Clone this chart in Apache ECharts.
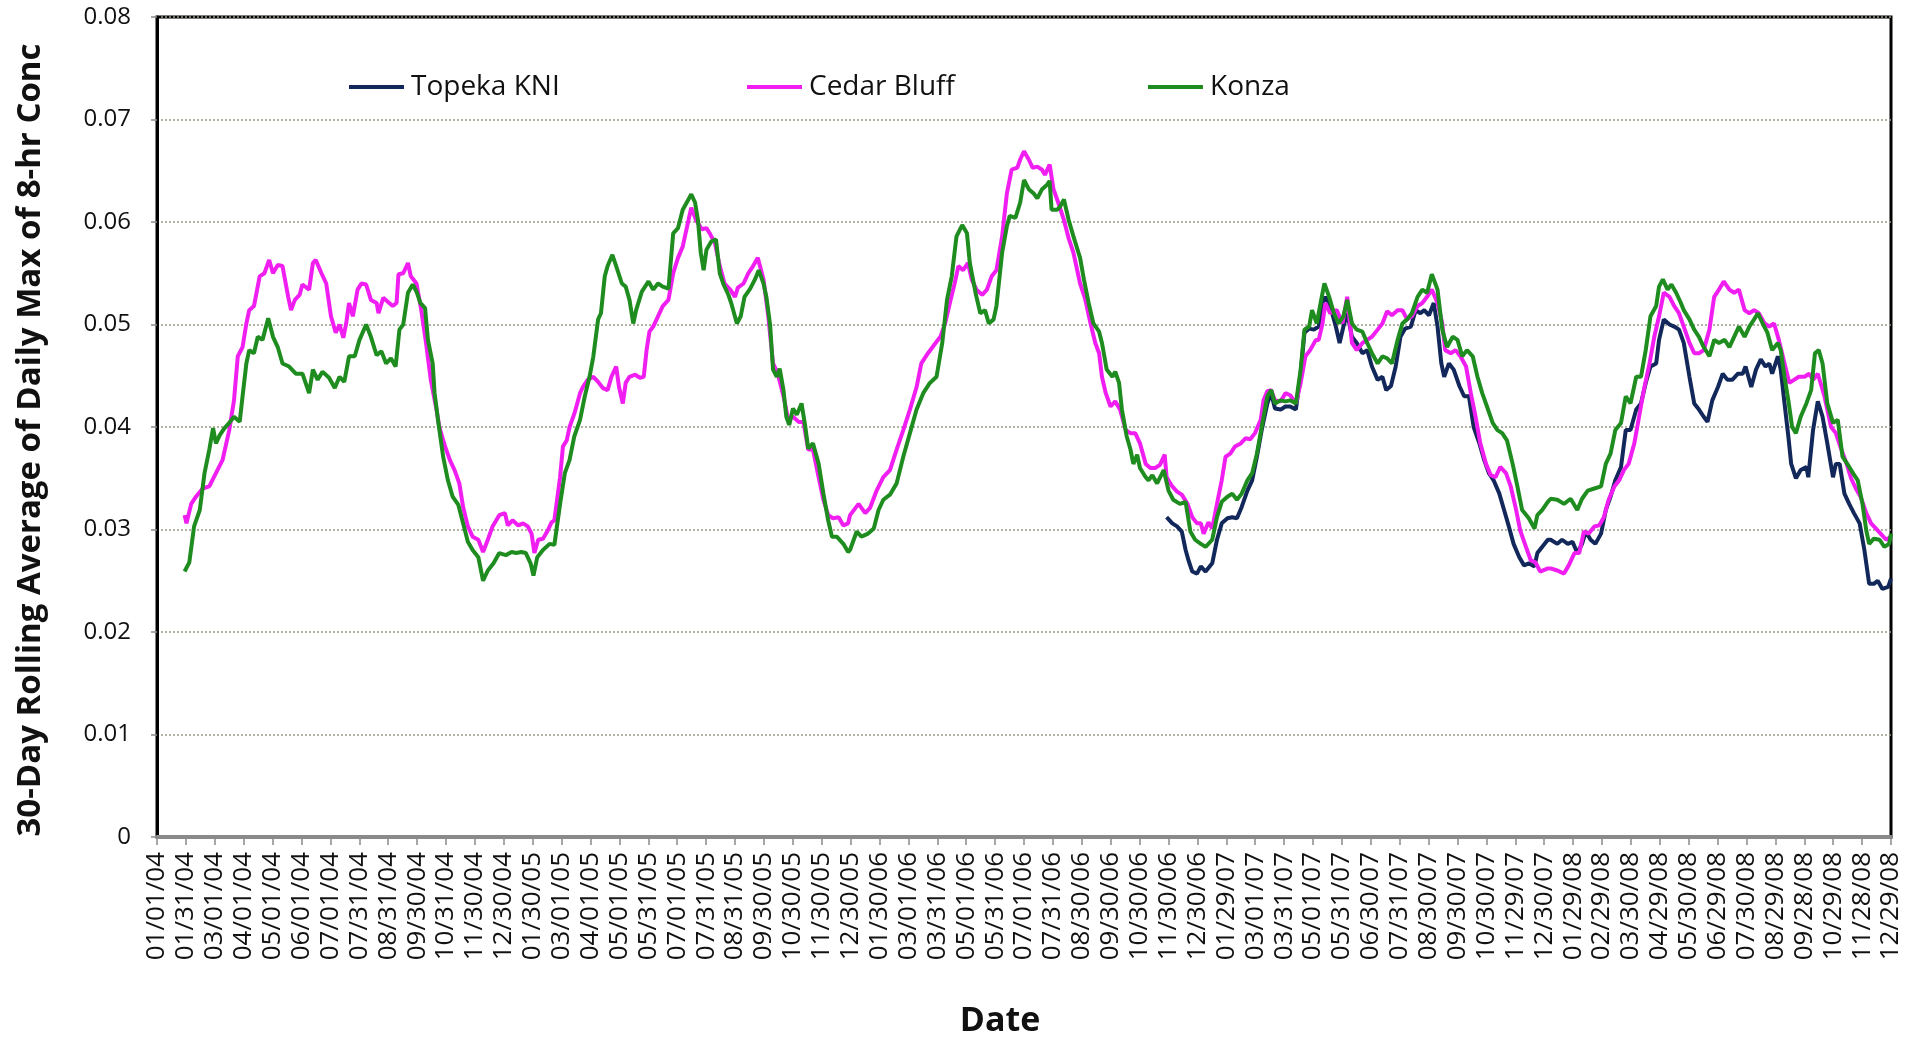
<!DOCTYPE html>
<html>
<head>
<meta charset="utf-8">
<title>30-Day Rolling Average of Daily Max of 8-hr Conc</title>
<script src="https://cdn.jsdelivr.net/npm/echarts@6/dist/echarts.min.js"></script>
<style>
  html, body { margin: 0; padding: 0; background: #fff; }
  #chart { width: 1907px; height: 1039px; }
</style>
</head>
<body>
<div id="chart"></div>
<script>
// Tick labels along the date axis (one every 30.4 days starting 01/01/04)
const dateTicks = [
  '01/01/04','01/31/04','03/01/04','04/01/04','05/01/04','06/01/04','07/01/04','07/31/04','08/31/04','09/30/04',
  '10/31/04','11/30/04','12/30/04','01/30/05','03/01/05','04/01/05','05/01/05','05/31/05','07/01/05','07/31/05',
  '08/31/05','09/30/05','10/30/05','11/30/05','12/30/05','01/30/06','03/01/06','03/31/06','05/01/06','05/31/06',
  '07/01/06','07/31/06','08/30/06','09/30/06','10/30/06','11/30/06','12/30/06','01/29/07','03/01/07','03/31/07',
  '05/01/07','05/31/07','06/30/07','07/31/07','08/30/07','09/30/07','10/30/07','11/29/07','12/30/07','01/29/08',
  '02/29/08','03/30/08','04/29/08','05/30/08','06/29/08','07/30/08','08/29/08','09/28/08','10/29/08','11/28/08',
  '12/29/08'
];
const tickStepDays = 30.4;
const lastDay = 1824; // 12/29/08, counted in days after 01/01/04

// Each point: [days after 01/01/04, 30-day rolling average (ppm)]
const topekaKNI = [
  [1062,0.0312],[1068,0.0306],[1073,0.0303],[1078,0.0298],[1082,0.0280],[1085,0.0270],[1089,0.0259],[1094,0.0257],
  [1098,0.0264],[1103,0.0259],[1110,0.0267],[1115,0.0290],[1120,0.0306],[1126,0.0311],[1131,0.0312],[1136,0.0311],
  [1141,0.0322],[1147,0.0338],[1152,0.0348],[1157,0.0371],[1162,0.0397],[1168,0.0423],[1172,0.0433],[1176,0.0418],
  [1182,0.0417],[1187,0.0420],[1192,0.0420],[1198,0.0417],[1203,0.0452],[1207,0.0492],[1212,0.0496],[1217,0.0495],
  [1222,0.0498],[1226,0.0521],[1229,0.0527],[1234,0.0518],[1240,0.0498],[1244,0.0482],[1248,0.0498],[1252,0.0511],
  [1257,0.0488],[1262,0.0482],[1268,0.0472],[1273,0.0475],[1278,0.0459],[1284,0.0446],[1289,0.0449],[1293,0.0436],
  [1298,0.0440],[1303,0.0459],[1308,0.0488],[1313,0.0496],[1319,0.0498],[1324,0.0514],[1329,0.0511],[1333,0.0514],
  [1338,0.0509],[1343,0.0521],[1347,0.0498],[1351,0.0462],[1354,0.0449],[1359,0.0462],[1364,0.0456],[1370,0.0440],
  [1375,0.0430],[1380,0.0430],[1385,0.0400],[1391,0.0384],[1396,0.0368],[1401,0.0355],[1406,0.0348],[1412,0.0335],
  [1417,0.0319],[1422,0.0303],[1427,0.0286],[1433,0.0273],[1438,0.0265],[1443,0.0267],[1449,0.0264],[1452,0.0277],
  [1457,0.0283],[1463,0.0290],[1466,0.0290],[1473,0.0286],[1478,0.0290],[1484,0.0286],[1489,0.0288],[1494,0.0277],
  [1499,0.0286],[1503,0.0298],[1508,0.0290],[1513,0.0286],[1519,0.0296],[1524,0.0319],[1529,0.0332],[1534,0.0348],
  [1540,0.0361],[1545,0.0397],[1550,0.0397],[1556,0.0417],[1561,0.0423],[1566,0.0443],[1571,0.0459],[1577,0.0462],
  [1580,0.0485],[1585,0.0505],[1591,0.0500],[1596,0.0498],[1601,0.0495],[1606,0.0482],[1612,0.0449],[1617,0.0423],
  [1622,0.0417],[1627,0.0410],[1631,0.0405],[1636,0.0426],[1642,0.0439],[1647,0.0452],[1652,0.0446],[1657,0.0446],
  [1663,0.0452],[1668,0.0452],[1671,0.0459],[1677,0.0439],[1682,0.0456],[1687,0.0466],[1692,0.0459],[1696,0.0462],
  [1699,0.0452],[1705,0.0469],[1708,0.0456],[1712,0.0423],[1716,0.0391],[1719,0.0364],[1724,0.0350],[1729,0.0358],
  [1735,0.0361],[1737,0.0351],[1742,0.0397],[1747,0.0425],[1752,0.0410],[1757,0.0384],[1763,0.0351],[1766,0.0364],
  [1770,0.0364],[1775,0.0335],[1780,0.0325],[1785,0.0316],[1791,0.0306],[1796,0.0280],[1801,0.0247],[1806,0.0247],
  [1810,0.0250],[1815,0.0242],[1821,0.0244],[1824,0.0252]
];

const cedarBluff = [
  [29,0.0314],[31,0.0306],[36,0.0325],[41,0.0332],[48,0.0340],[55,0.0342],[62,0.0355],[69,0.0368],[76,0.0397],
  [81,0.0426],[85,0.0469],[90,0.0478],[94,0.0501],[97,0.0514],[102,0.0518],[108,0.0547],[113,0.0550],[118,0.0563],
  [122,0.0550],[127,0.0558],[132,0.0557],[138,0.0527],[141,0.0514],[145,0.0524],[150,0.0529],[153,0.0539],[160,0.0534],
  [164,0.0560],[167,0.0563],[173,0.0550],[178,0.0540],[183,0.0508],[188,0.0492],[192,0.0500],[196,0.0487],[199,0.0501],
  [202,0.0521],[206,0.0508],[211,0.0534],[215,0.0540],[220,0.0539],[225,0.0524],[231,0.0521],[233,0.0511],[238,0.0526],
  [243,0.0522],[248,0.0518],[252,0.0521],[254,0.0549],[259,0.0550],[264,0.0560],[267,0.0547],[273,0.0540],[278,0.0514],
  [283,0.0482],[288,0.0446],[294,0.0417],[297,0.0400],[303,0.0381],[308,0.0368],[313,0.0358],[318,0.0345],[322,0.0322],
  [327,0.0303],[332,0.0293],[338,0.0290],[343,0.0278],[348,0.0290],[353,0.0303],
  [360,0.0314],[366,0.0316],[369,0.0304],[374,0.0309],[380,0.0304],[385,0.0306],[390,0.0303],[394,0.0296],[397,0.0277],
  [401,0.0290],[406,0.0291],[411,0.0299],[415,0.0307],[418,0.0309],[424,0.0351],[427,0.0381],[431,0.0387],[434,0.0400],
  [439,0.0413],[445,0.0433],[448,0.0439],[453,0.0446],[459,0.0449],[464,0.0444],[469,0.0438],[474,0.0436],[478,0.0449],
  [483,0.0459],[486,0.0439],[490,0.0423],[493,0.0443],[497,0.0449],[503,0.0451],[508,0.0448],[512,0.0449],[515,0.0475],
  [518,0.0493],[522,0.0498],[527,0.0508],[532,0.0518],[538,0.0524],[543,0.0550],[548,0.0565],[553,0.0576],[557,0.0593],
  [562,0.0614],[567,0.0602],[573,0.0593],[578,0.0594],[582,0.0588],[587,0.0579],[592,0.0557],[597,0.0540],[603,0.0534],
  [608,0.0527],[611,0.0536],[617,0.0540],[622,0.0550],[627,0.0557],[632,0.0565],[638,0.0544],[643,0.0508],[648,0.0462],
  [653,0.0452],[659,0.0430],[664,0.0407],[669,0.0410],[675,0.0405],[680,0.0405],[685,0.0378],[690,0.0378],[696,0.0351],
  [701,0.0329],[706,0.0314],[711,0.0311],[717,0.0312],[722,0.0304],[727,0.0306],
  [729,0.0314],[738,0.0325],[745,0.0316],[750,0.0321],[757,0.0338],[764,0.0351],[771,0.0358],[778,0.0378],[785,0.0397],
  [792,0.0417],[799,0.0439],[804,0.0462],[811,0.0472],[819,0.0482],[824,0.0488],[829,0.0501],[834,0.0521],[839,0.0540],
  [843,0.0557],[848,0.0553],[853,0.0560],[857,0.0544],[862,0.0534],[868,0.0529],[873,0.0534],[878,0.0547],[883,0.0553],
  [889,0.0586],[894,0.0628],[899,0.0651],[905,0.0653],[908,0.0661],[912,0.0669],[917,0.0661],[921,0.0653],[926,0.0654],
  [931,0.0651],[934,0.0646],[939,0.0656],[943,0.0632],[948,0.0619],[954,0.0602],[959,0.0584],[964,0.0570],[971,0.0540],
  [976,0.0526],[982,0.0501],[987,0.0482],[991,0.0472],[994,0.0449],[998,0.0433],[1003,0.0420],[1008,0.0425],[1013,0.0417],
  [1019,0.0397],[1024,0.0394],[1029,0.0394],[1034,0.0384],[1040,0.0364],[1045,0.0360],[1050,0.0360],[1055,0.0363],
  [1060,0.0373],[1062,0.0351],[1068,0.0342],[1073,0.0337],[1078,0.0334],[1084,0.0325],[1089,0.0312],[1094,0.0306],
  [1098,0.0306],[1101,0.0296],[1106,0.0307],[1110,0.0301],[1115,0.0325],[1120,0.0348],[1124,0.0371],[1129,0.0374],
  [1134,0.0381],[1140,0.0384],[1145,0.0389],[1150,0.0388],[1155,0.0394],[1161,0.0407],[1164,0.0426],[1168,0.0435],
  [1172,0.0436],[1176,0.0426],[1182,0.0425],[1187,0.0433],[1192,0.0431],[1198,0.0423],[1203,0.0443],[1208,0.0469],
  [1213,0.0475],[1219,0.0485],[1222,0.0485],[1226,0.0501],[1229,0.0521],[1234,0.0511],[1241,0.0514],[1247,0.0501],
  [1252,0.0527],[1257,0.0482],[1262,0.0475],[1268,0.0482],[1273,0.0485],[1278,0.0488],[1284,0.0495],[1289,0.0501],
  [1294,0.0513],[1299,0.0509],[1305,0.0514],[1310,0.0514],[1315,0.0505],[1320,0.0508],[1326,0.0518],[1331,0.0521],
  [1336,0.0527],[1341,0.0534],[1347,0.0521],[1352,0.0501],[1355,0.0475],[1361,0.0472],[1366,0.0475],[1371,0.0469],
  [1377,0.0459],[1382,0.0433],[1387,0.0410],[1392,0.0384],[1398,0.0364],[1403,0.0353],[1408,0.0351],[1413,0.0361],
  [1419,0.0355],[1424,0.0342],[1429,0.0322],[1434,0.0299],[1440,0.0283],[1445,0.0270],[1450,0.0268],[1455,0.0259],
  [1463,0.0262],[1466,0.0262],[1473,0.0260],[1480,0.0257],[1485,0.0265],[1491,0.0277],[1496,0.0277],[1501,0.0298],
  [1506,0.0296],[1512,0.0303],[1517,0.0304],[1522,0.0312],[1527,0.0329],[1533,0.0342],[1538,0.0348],[1543,0.0358],
  [1548,0.0364],[1554,0.0384],[1559,0.0410],[1564,0.0436],[1570,0.0462],[1575,0.0488],[1580,0.0508],[1585,0.0531],
  [1591,0.0527],[1596,0.0518],[1601,0.0511],[1606,0.0498],[1612,0.0482],[1617,0.0472],[1622,0.0472],[1627,0.0475],
  [1633,0.0495],[1638,0.0527],[1643,0.0534],[1648,0.0542],[1654,0.0534],[1659,0.0531],[1664,0.0534],[1670,0.0514],
  [1675,0.0511],[1680,0.0514],[1685,0.0511],[1691,0.0501],[1696,0.0498],[1701,0.0501],[1706,0.0485],[1712,0.0462],
  [1717,0.0443],[1722,0.0446],[1727,0.0449],[1733,0.0449],[1738,0.0452],[1742,0.0446],[1747,0.0452],[1754,0.0430],
  [1761,0.0400],[1766,0.0394],[1771,0.0380],[1777,0.0365],[1782,0.0350],[1787,0.0340],[1792,0.0332],[1798,0.0316],
  [1803,0.0306],[1808,0.0301],[1813,0.0296],[1819,0.0290],[1824,0.0293]
];

const konza = [
  [29,0.0259],[34,0.0268],[39,0.0303],[45,0.0319],[50,0.0355],[55,0.0378],[59,0.0399],[62,0.0384],[66,0.0392],
  [71,0.0399],[76,0.0404],[81,0.0410],[87,0.0405],[90,0.0430],[94,0.0462],[97,0.0475],[102,0.0472],[106,0.0488],
  [111,0.0485],[117,0.0506],[122,0.0488],[127,0.0478],[132,0.0462],[139,0.0459],[146,0.0452],[153,0.0452],[160,0.0433],
  [164,0.0456],[169,0.0446],[174,0.0454],[181,0.0448],[187,0.0438],[192,0.0449],[197,0.0444],[202,0.0469],[208,0.0469],
  [213,0.0485],[220,0.0500],[225,0.0488],[231,0.0470],[236,0.0474],[241,0.0462],[246,0.0467],[251,0.0459],[255,0.0495],
  [259,0.0500],[264,0.0531],[269,0.0539],[273,0.0532],[277,0.0521],[282,0.0516],[285,0.0485],[290,0.0462],[292,0.0433],
  [296,0.0404],[301,0.0371],[306,0.0348],[311,0.0332],[317,0.0324],[322,0.0306],[327,0.0288],[332,0.0280],[338,0.0273],
  [343,0.0250],[348,0.0260],[354,0.0267],
  [360,0.0277],[367,0.0275],[373,0.0278],[378,0.0277],[383,0.0278],[388,0.0277],[393,0.0267],[396,0.0255],[400,0.0273],
  [406,0.0280],[413,0.0286],[418,0.0285],[424,0.0325],[429,0.0355],[434,0.0368],[439,0.0391],[445,0.0407],[450,0.0430],
  [455,0.0449],[459,0.0469],[464,0.0505],[467,0.0511],[471,0.0547],[474,0.0557],[479,0.0568],[483,0.0557],[489,0.0540],
  [493,0.0537],[497,0.0524],[501,0.0501],[504,0.0514],[510,0.0532],[517,0.0542],[522,0.0534],[527,0.0540],[532,0.0537],
  [538,0.0535],[543,0.0589],[548,0.0594],[553,0.0612],[559,0.0622],[562,0.0627],[566,0.0619],[569,0.0602],[572,0.0570],
  [575,0.0553],[578,0.0573],[583,0.0581],[588,0.0583],[592,0.0550],[596,0.0539],[601,0.0529],[604,0.0521],[610,0.0501],
  [614,0.0508],[618,0.0527],[624,0.0535],[629,0.0544],[633,0.0553],[638,0.0540],[641,0.0527],[645,0.0499],[648,0.0456],
  [652,0.0449],[655,0.0457],[659,0.0436],[662,0.0410],[665,0.0402],[669,0.0418],[673,0.0412],[678,0.0423],[682,0.0400],
  [685,0.0379],[690,0.0384],[696,0.0364],[701,0.0335],[706,0.0309],[710,0.0293],[715,0.0293],[722,0.0286],[727,0.0278],
  [729,0.0280],[736,0.0298],[741,0.0293],[748,0.0296],[754,0.0301],[759,0.0319],[764,0.0329],[771,0.0334],[778,0.0345],
  [785,0.0371],[792,0.0394],[799,0.0417],[806,0.0433],[813,0.0443],[820,0.0449],[826,0.0482],[831,0.0524],[836,0.0547],
  [841,0.0586],[847,0.0597],[852,0.0589],[855,0.0560],[861,0.0531],[866,0.0511],[871,0.0514],[875,0.0501],[880,0.0505],
  [883,0.0518],[889,0.0570],[894,0.0596],[897,0.0606],[903,0.0604],[908,0.0619],[912,0.0641],[917,0.0632],[922,0.0628],
  [926,0.0623],[931,0.0632],[936,0.0636],[939,0.0640],[941,0.0612],[947,0.0612],[950,0.0615],[954,0.0622],[959,0.0602],
  [964,0.0586],[971,0.0565],[975,0.0544],[980,0.0521],[985,0.0501],[991,0.0493],[994,0.0482],[999,0.0456],[1005,0.0449],
  [1008,0.0454],[1012,0.0443],[1015,0.0417],[1020,0.0391],[1024,0.0378],[1027,0.0364],[1031,0.0373],[1034,0.0360],
  [1040,0.0351],[1043,0.0348],[1047,0.0353],[1052,0.0345],[1059,0.0358],[1064,0.0338],[1069,0.0329],[1076,0.0325],
  [1082,0.0327],[1087,0.0298],[1092,0.0290],
  [1098,0.0286],[1103,0.0283],[1110,0.0290],[1115,0.0312],[1120,0.0327],[1126,0.0332],[1131,0.0335],[1136,0.0329],
  [1141,0.0335],[1147,0.0348],[1152,0.0355],[1157,0.0374],[1162,0.0400],[1168,0.0430],[1172,0.0436],[1176,0.0423],
  [1182,0.0426],[1187,0.0425],[1192,0.0426],[1198,0.0423],[1203,0.0456],[1207,0.0495],[1212,0.0498],[1215,0.0514],
  [1220,0.0501],[1224,0.0521],[1228,0.0540],[1233,0.0527],[1238,0.0511],[1243,0.0501],[1248,0.0508],[1252,0.0524],
  [1257,0.0501],[1262,0.0495],[1268,0.0493],[1273,0.0482],[1278,0.0472],[1284,0.0462],[1289,0.0469],[1294,0.0467],
  [1299,0.0462],[1305,0.0485],[1310,0.0501],[1315,0.0505],[1320,0.0511],[1326,0.0527],[1331,0.0534],[1336,0.0531],
  [1341,0.0549],[1347,0.0534],[1352,0.0495],[1357,0.0478],[1363,0.0488],[1368,0.0485],[1373,0.0469],[1378,0.0475],
  [1384,0.0469],[1389,0.0449],[1394,0.0433],[1399,0.0420],[1405,0.0404],[1410,0.0397],[1415,0.0394],[1420,0.0387],
  [1426,0.0364],[1431,0.0342],[1436,0.0319],[1443,0.0311],[1449,0.0301],[1452,0.0314],[1457,0.0319],[1463,0.0327],
  [1466,0.0330],[1473,0.0329],[1480,0.0325],[1487,0.0330],[1494,0.0319],[1499,0.0330],[1505,0.0338],[1512,0.0340],
  [1519,0.0342],[1524,0.0364],[1529,0.0374],[1534,0.0397],[1540,0.0404],[1545,0.0430],[1550,0.0423],[1556,0.0449],
  [1561,0.0449],[1566,0.0475],[1571,0.0508],[1577,0.0518],[1580,0.0537],[1584,0.0544],[1589,0.0534],[1593,0.0539],
  [1598,0.0531],[1603,0.0521],[1606,0.0514],[1612,0.0505],[1617,0.0495],[1622,0.0488],[1627,0.0478],[1633,0.0469],
  [1638,0.0485],[1643,0.0482],[1649,0.0485],[1654,0.0478],[1659,0.0488],[1664,0.0498],[1670,0.0488],[1675,0.0498],
  [1680,0.0505],[1684,0.0511],[1689,0.0501],[1694,0.0492],[1699,0.0475],[1705,0.0482],[1708,0.0475],[1712,0.0449],
  [1716,0.0426],[1720,0.0400],[1724,0.0394],[1729,0.0410],[1735,0.0423],[1740,0.0436],[1744,0.0472],[1748,0.0475],
  [1752,0.0462],[1757,0.0423],[1763,0.0404],[1768,0.0407],[1773,0.0371],[1778,0.0364],[1784,0.0355],[1789,0.0348],
  [1794,0.0325],[1798,0.0299],[1801,0.0286],[1806,0.0291],[1812,0.0290],[1817,0.0283],[1822,0.0286],[1824,0.0296]
];

const seriesNames = ['Topeka KNI', 'Cedar Bluff', 'Konza'];
const seriesColors = ['#13285A', '#F01EF0', '#1E8C1E'];
const seriesData = [topekaKNI, cedarBluff, konza];

const FONT = '"Open Sans", "Noto Sans", sans-serif';

const chart = echarts.init(document.getElementById('chart'), null, { renderer: 'canvas' });

// Horizontal start of each legend entry
const legendLefts = [344, 742, 1143];

const option = {
  backgroundColor: '#ffffff',
  animation: false,
  textStyle: { fontFamily: FONT },
  grid: {
    left: 157, right: 16, top: 17, bottom: 202,
    show: true,
    borderColor: '#000000',
    borderWidth: 3,
    outerBoundsMode: 'none'
  },
  legend: seriesNames.map((name, i) => ({
    data: [name],
    left: legendLefts[i],
    top: 68,
    icon: 'rect',
    itemWidth: 55,
    itemHeight: 4,
    itemGap: 0,
    textStyle: { fontFamily: FONT, fontSize: 28, color: '#111', padding: [0, 0, 0, 2] },
    selectedMode: false
  })),
  xAxis: {
    type: 'value',
    min: 0,
    max: lastDay,
    interval: tickStepDays,
    name: 'Date',
    nameLocation: 'middle',
    nameGap: 167,
    nameTextStyle: {
      fontFamily: FONT, fontWeight: 'bold', fontSize: 34, color: '#111',
      padding: [0, 48, 0, 0]
    },
    axisLine: { show: true, onZero: false, lineStyle: { color: '#8A8A8A', width: 4 } },
    axisTick: { show: true, length: 8, lineStyle: { color: '#8A8A8A', width: 1.5 } },
    axisLabel: {
      rotate: 90,
      margin: 15,
      fontFamily: FONT,
      fontSize: 26,
      color: '#111',
      showMinLabel: true,
      showMaxLabel: true,
      formatter: function (v) {
        const idx = Math.round(v / tickStepDays);
        return dateTicks[idx] !== undefined ? dateTicks[idx] : '';
      }
    },
    splitLine: { show: false }
  },
  yAxis: {
    type: 'value',
    min: 0,
    max: 0.08,
    interval: 0.01,
    name: '30-Day Rolling Average of Daily Max of 8-hr Conc',
    nameLocation: 'middle',
    nameGap: 110,
    nameTextStyle: {
      fontFamily: FONT, fontWeight: 'bold', fontSize: 33, color: '#111',
      padding: [0, 26, 0, 0]
    },
    axisLine: { show: true, lineStyle: { color: '#000000', width: 3 } },
    axisTick: { show: true, length: 6, lineStyle: { color: '#8A8A8A', width: 1.5 } },
    axisLabel: {
      margin: 26,
      fontFamily: FONT,
      fontSize: 24,
      color: '#111',
      formatter: function (v) { return v === 0 ? '0' : v.toFixed(2); }
    },
    splitLine: {
      show: true,
      lineStyle: { color: '#9A9A86', width: 1.5, type: [2, 2] }
    }
  },
  series: seriesNames.map((name, i) => ({
    name: name,
    type: 'line',
    data: seriesData[i],
    showSymbol: false,
    symbol: 'none',
    smooth: false,
    color: seriesColors[i],
    lineStyle: { color: seriesColors[i], width: 4 },
    z: 2 + i
  }))
};

chart.setOption(option);
</script>
</body>
</html>
